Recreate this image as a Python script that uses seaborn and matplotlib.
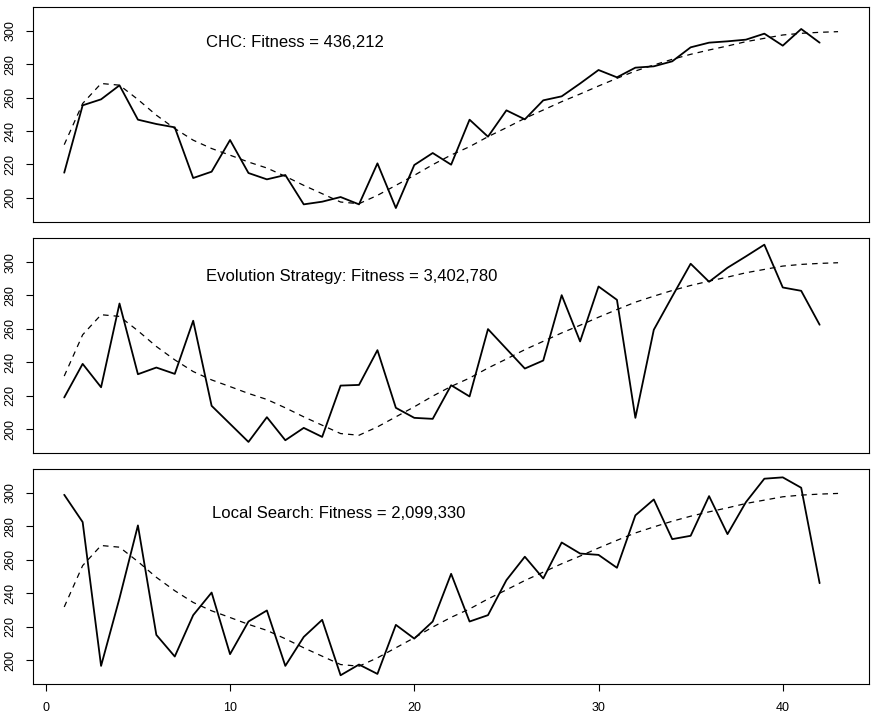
import numpy as np
import pandas as pd
import matplotlib
matplotlib.use("Agg")
import matplotlib.pyplot as plt
import seaborn as sns

# Generation index for the runs and for the smoothed reference curve
gen = list(range(1, 43))
gen_ref = list(range(1, 44))

# Smoothed reference curve (dashed), shared by all panels
reference = [231.8, 256.5, 268.5, 267.5, 258.9, 249.5, 241.5, 234.5, 229.5, 225.5,
             221.4, 217.8, 212.8, 207.4, 202.4, 197.4, 196.4, 201.4, 207.4, 213.4,
             219.8, 225.6, 230.6, 236.6, 242.0, 247.6, 252.6, 257.6, 262.2, 267.0,
             271.6, 276.0, 279.6, 283.0, 286.0, 288.6, 291.0, 293.6, 295.6, 297.6,
             298.6, 299.2, 299.6]

# Best solutions found by each search method
chc = [215.0, 255.4, 259.0, 267.4, 246.8, 244.2, 242.2, 211.8, 215.6, 234.6,
       214.8, 211.0, 213.6, 196.0, 197.6, 200.4, 196.0, 220.6, 193.8, 219.6,
       226.8, 219.8, 246.8, 236.6, 252.4, 247.0, 258.4, 260.8, 268.5, 276.6,
       272.2, 278.0, 278.8, 281.8, 290.2, 293.0, 293.8, 294.8, 298.4, 291.2,
       301.2, 293.0]
es = [219.0, 239.1, 225.1, 275.2, 232.9, 236.9, 233.1, 264.9, 214.0, 203.2,
      192.4, 207.2, 193.4, 200.8, 195.4, 226.1, 226.5, 247.3, 212.8, 206.8,
      206.2, 226.3, 219.6, 259.9, 248.1, 236.3, 241.1, 280.2, 252.5, 285.4,
      277.4, 206.8, 259.5, 279.4, 299.0, 288.2, 296.6, 303.4, 310.4, 284.8,
      282.8, 262.5]
local = [298.8, 282.5, 196.6, 237.0, 280.5, 215.1, 202.2, 226.9, 240.4, 203.6,
         223.1, 229.7, 196.6, 213.9, 224.1, 191.0, 197.4, 191.8, 221.1, 212.9,
         223.1, 251.6, 223.1, 226.9, 247.8, 261.8, 248.8, 270.3, 263.7, 262.9,
         255.2, 286.5, 296.0, 272.3, 274.3, 298.0, 275.3, 294.4, 308.4, 309.2,
         303.0, 246.0]

labels = ["CHC: Fitness = 436,212",
          "Evolution Strategy: Fitness = 3,402,780",
          "Local Search: Fitness = 2,099,330"]
series = [chc, es, local]
label_pos = [(13.5, 293.0), (16.6, 291.6), (15.9, 287.7)]

y_ticks = [200, 220, 240, 260, 280, 300]
x_ticks = [0, 10, 20, 30, 40]

sns.set_style("white")
plt.rcParams["font.family"] = ["Liberation Sans", "DejaVu Sans"]

fig = plt.figure(figsize=(8.71, 7.17), dpi=100)
boxes = [(0.0382, 0.6908, 0.9595, 0.2990),
         (0.0382, 0.3678, 0.9595, 0.2998),
         (0.0382, 0.0456, 0.9595, 0.3003)]

for k, (vals, text, (tx, ty)) in enumerate(zip(series, labels, label_pos)):
    ax = fig.add_axes(boxes[k])
    run = pd.DataFrame({"gen": gen, "value": vals})
    ref = pd.DataFrame({"gen": gen_ref, "value": reference})
    sns.lineplot(data=run, x="gen", y="value", ax=ax, color="black",
                 linewidth=1.3, estimator=None)
    sns.lineplot(data=ref, x="gen", y="value", ax=ax, color="black",
                 linewidth=0.9, linestyle=(0, (4.5, 4)), estimator=None)
    ax.set_xlim(1 - 1.68, 43 + 1.68)
    ax.set_ylim(185.6, 314.2)
    ax.set_xlabel("")
    ax.set_ylabel("")
    ax.set_yticks(y_ticks)
    ax.tick_params(axis="y", direction="out", length=5, width=0.8,
                   labelsize=9, pad=7, left=True, colors="black")
    for lab in ax.get_yticklabels():
        lab.set_rotation(90)
        lab.set_va("center")
    if k == 2:
        ax.set_xticks(x_ticks)
        ax.tick_params(axis="x", direction="out", length=5, width=0.8,
                       labelsize=9, pad=8, bottom=True, colors="black")
    else:
        ax.set_xticks([])
    for sp in ax.spines.values():
        sp.set_visible(True)
        sp.set_color("black")
        sp.set_linewidth(0.8)
    ax.text(tx, ty, text, ha="center", va="center", fontsize=12, color="black")

fig.savefig("out.png", dpi=100)
